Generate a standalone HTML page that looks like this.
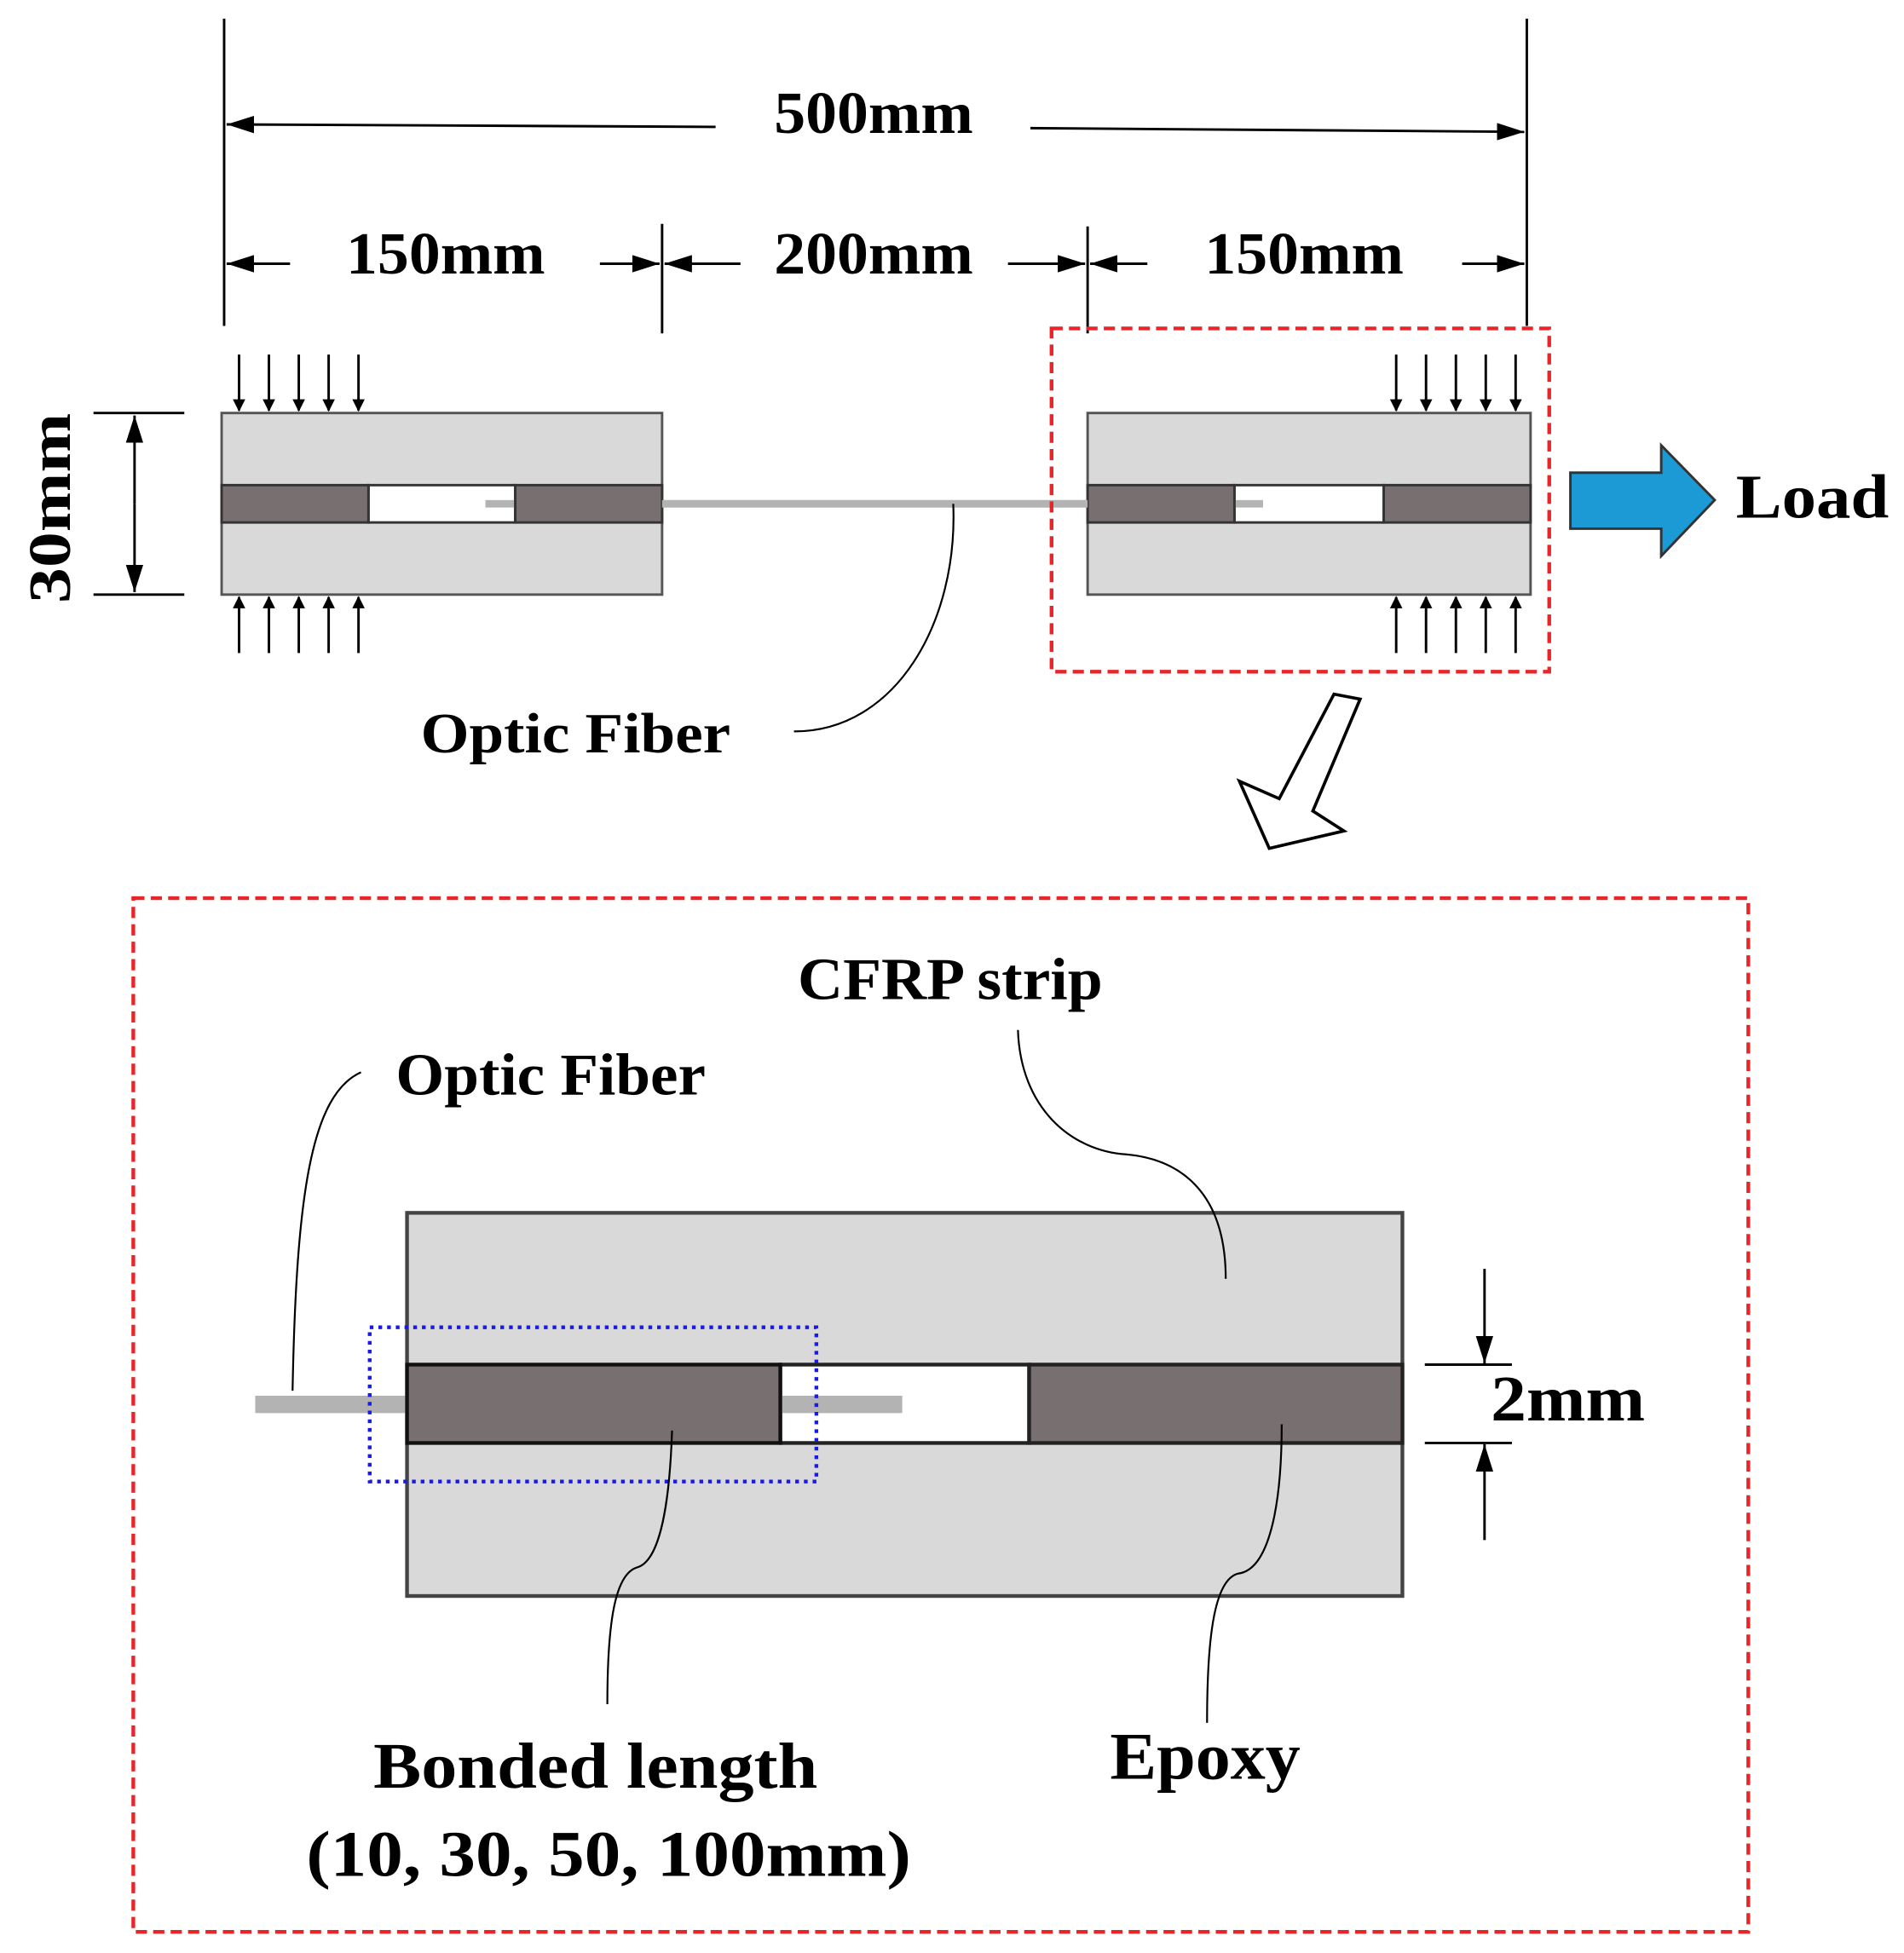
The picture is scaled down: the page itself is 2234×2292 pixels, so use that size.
<!DOCTYPE html>
<html><head><style>html,body{margin:0;padding:0;background:#fff}svg{display:block}</style></head>
<body>
<svg width="2234" height="2292" viewBox="0 0 1530 1570" xmlns="http://www.w3.org/2000/svg" font-family="Liberation Serif, serif" font-weight="bold">
<defs>
<marker id="a" markerWidth="10" markerHeight="10" refX="9" refY="5" orient="auto" markerUnits="userSpaceOnUse" viewBox="0 0 10 10"><path d="M0,0 L10,5 L0,10z" fill="#000"/></marker>
<marker id="b" markerWidth="22" markerHeight="14" refX="22" refY="7" orient="auto" markerUnits="userSpaceOnUse"><path d="M0,0 L22,7 L0,14z" fill="#000"/></marker>
</defs>
<g stroke="#000" stroke-width="2" fill="none">
<line x1="180" y1="15" x2="180" y2="262"/><line x1="1227" y1="15" x2="1227" y2="262"/>
<line x1="532" y1="180" x2="532" y2="268"/><line x1="874" y1="182" x2="874" y2="268"/>
<line x1="575" y1="102" x2="182" y2="100" marker-end="url(#b)"/>
<line x1="828" y1="103" x2="1225" y2="106" marker-end="url(#b)"/>
<line x1="233" y1="212" x2="182" y2="212" marker-end="url(#b)"/>
<line x1="482" y1="212" x2="530" y2="212" marker-end="url(#b)"/>
<line x1="595" y1="212" x2="534" y2="212" marker-end="url(#b)"/>
<line x1="810" y1="212" x2="872" y2="212" marker-end="url(#b)"/>
<line x1="922" y1="212" x2="876" y2="212" marker-end="url(#b)"/>
<line x1="1175" y1="212" x2="1225" y2="212" marker-end="url(#b)"/>
<line x1="75" y1="332" x2="148" y2="332"/><line x1="75" y1="478" x2="148" y2="478"/>
<line x1="108" y1="405" x2="108" y2="334" marker-end="url(#b)"/>
<line x1="108" y1="405" x2="108" y2="476" marker-end="url(#b)"/>
</g>
<g font-size="48" fill="#000">
<text x="622" y="107" textLength="160" lengthAdjust="spacingAndGlyphs">500mm</text>
<text x="278" y="220" textLength="160" lengthAdjust="spacingAndGlyphs">150mm</text>
<text x="622" y="220" textLength="160" lengthAdjust="spacingAndGlyphs">200mm</text>
<text x="968" y="220" textLength="160" lengthAdjust="spacingAndGlyphs">150mm</text>
<text transform="translate(56,485) rotate(-90)" textLength="153" lengthAdjust="spacingAndGlyphs">30mm</text>
</g>
<rect x="178" y="332" width="354" height="146" fill="#d9d9d9" stroke="#555" stroke-width="2"/>
<rect x="296" y="390" width="118" height="30" fill="#fff" stroke="#333" stroke-width="2"/>
<line x1="390" y1="405" x2="1015" y2="405" stroke="#b3b3b3" stroke-width="6"/>
<rect x="178" y="390" width="118" height="30" fill="#787070" stroke="#333" stroke-width="2"/>
<rect x="414" y="390" width="118" height="30" fill="#787070" stroke="#333" stroke-width="2"/>
<rect x="874" y="332" width="356" height="146" fill="#d9d9d9" stroke="#555" stroke-width="2"/>
<rect x="992" y="390" width="120" height="30" fill="#fff" stroke="#333" stroke-width="2"/>
<line x1="992" y1="405" x2="1015" y2="405" stroke="#b3b3b3" stroke-width="6"/>
<rect x="874" y="390" width="118" height="30" fill="#787070" stroke="#333" stroke-width="2"/>
<rect x="1112" y="390" width="118" height="30" fill="#787070" stroke="#333" stroke-width="2"/>
<line x1="532" y1="405" x2="874" y2="405" stroke="#b3b3b3" stroke-width="6"/>
<g stroke="#000" stroke-width="2">
<line x1="192" y1="285" x2="192" y2="330" marker-end="url(#a)"/><line x1="216" y1="285" x2="216" y2="330" marker-end="url(#a)"/><line x1="240" y1="285" x2="240" y2="330" marker-end="url(#a)"/><line x1="264" y1="285" x2="264" y2="330" marker-end="url(#a)"/><line x1="288" y1="285" x2="288" y2="330" marker-end="url(#a)"/>
<line x1="192" y1="525" x2="192" y2="480" marker-end="url(#a)"/><line x1="216" y1="525" x2="216" y2="480" marker-end="url(#a)"/><line x1="240" y1="525" x2="240" y2="480" marker-end="url(#a)"/><line x1="264" y1="525" x2="264" y2="480" marker-end="url(#a)"/><line x1="288" y1="525" x2="288" y2="480" marker-end="url(#a)"/>
<line x1="1122" y1="285" x2="1122" y2="330" marker-end="url(#a)"/><line x1="1146" y1="285" x2="1146" y2="330" marker-end="url(#a)"/><line x1="1170" y1="285" x2="1170" y2="330" marker-end="url(#a)"/><line x1="1194" y1="285" x2="1194" y2="330" marker-end="url(#a)"/><line x1="1218" y1="285" x2="1218" y2="330" marker-end="url(#a)"/>
<line x1="1122" y1="525" x2="1122" y2="480" marker-end="url(#a)"/><line x1="1146" y1="525" x2="1146" y2="480" marker-end="url(#a)"/><line x1="1170" y1="525" x2="1170" y2="480" marker-end="url(#a)"/><line x1="1194" y1="525" x2="1194" y2="480" marker-end="url(#a)"/><line x1="1218" y1="525" x2="1218" y2="480" marker-end="url(#a)"/>
</g>
<rect x="845" y="264" width="400" height="276" fill="none" stroke="#e8262a" stroke-width="3" stroke-dasharray="9,5"/>
<path d="M1262,380 L1335,380 L1335,358 L1378,402 L1335,447 L1335,425 L1262,425z" fill="#1b9ad6" stroke="#333" stroke-width="2"/>
<text x="1395" y="416" font-size="50" textLength="123" lengthAdjust="spacingAndGlyphs">Load</text>
<path d="M766,405 C770,500 720,588 638,588" fill="none" stroke="#000" stroke-width="1.5"/>
<text x="338" y="605" font-size="46" textLength="249" lengthAdjust="spacingAndGlyphs">Optic Fiber</text>
<path d="M1072,558 L1093,562 L1055,652 L1080,668 L1020,682 L996,628 L1028,642z" fill="#fff" stroke="#000" stroke-width="2.5"/>
<rect x="107" y="722" width="1298" height="831" fill="none" stroke="#e8262a" stroke-width="3" stroke-dasharray="9,5"/>
<rect x="327" y="975" width="800" height="308" fill="#d9d9d9" stroke="#444" stroke-width="3"/>
<rect x="627" y="1097" width="200" height="63" fill="#fff" stroke="#222" stroke-width="3"/>
<line x1="205" y1="1129" x2="725" y2="1129" stroke="#b3b3b3" stroke-width="14"/>
<rect x="327" y="1097" width="300" height="63" fill="#787070" stroke="#111" stroke-width="3"/>
<rect x="827" y="1097" width="300" height="63" fill="#787070" stroke="#222" stroke-width="3"/>
<rect x="297" y="1067" width="359" height="124" fill="none" stroke="#1a1ae6" stroke-width="3" stroke-dasharray="3,4"/>
<g stroke="#000" stroke-width="2" fill="none">
<line x1="1145" y1="1097" x2="1215" y2="1097"/><line x1="1145" y1="1160" x2="1215" y2="1160"/>
<line x1="1193" y1="1020" x2="1193" y2="1096" marker-end="url(#b)"/>
<line x1="1193" y1="1238" x2="1193" y2="1161" marker-end="url(#b)"/>
<path d="M818,828 C820,890 860,925 905,928 C950,932 985,960 985,1028" stroke-width="1.5"/>
<path d="M290,862 C250,880 238,960 235,1118" stroke-width="1.5"/>
<path d="M540,1150 C538,1210 530,1255 512,1260 C495,1265 488,1300 488,1370" stroke-width="1.5"/>
<path d="M1030,1145 C1030,1210 1020,1262 995,1265 C975,1270 970,1320 970,1385" stroke-width="1.5"/>
</g>
<text x="1198" y="1142" font-size="52" textLength="124" lengthAdjust="spacingAndGlyphs">2mm</text>
<text x="641" y="803" font-size="48" textLength="245" lengthAdjust="spacingAndGlyphs">CFRP strip</text>
<text x="318" y="880" font-size="48" textLength="249" lengthAdjust="spacingAndGlyphs">Optic Fiber</text>
<text x="300" y="1437" font-size="52" textLength="357" lengthAdjust="spacingAndGlyphs">Bonded length</text>
<text x="246" y="1508" font-size="52" textLength="486" lengthAdjust="spacingAndGlyphs">(10, 30, 50, 100mm)</text>
<text x="892" y="1430" font-size="54" textLength="153" lengthAdjust="spacingAndGlyphs">Epoxy</text>
</svg>
</body></html>
